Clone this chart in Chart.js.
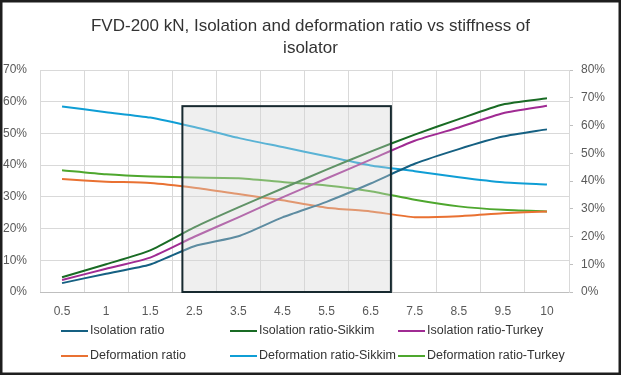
<!DOCTYPE html>
<html>
<head>
<meta charset="utf-8">
<script src="https://cdn.jsdelivr.net/npm/chart.js@4/dist/chart.umd.min.js"></script>
<style>
html,body{margin:0;padding:0;background:#fff;}
#wrap{width:621px;height:375px;position:relative;}
</style>
</head>
<body>
<div id="wrap"><canvas id="c" width="621" height="375"></canvas></div>
<script>
// ---- data ----
const categories = ['0.5','1','1.5','2.5','3.5','4.5','5.5','6.5','7.5','8.5','9.5','10'];

// isolation ratios (secondary / right axis, 0-80%)
const isolationRatio        = [0.032,0.066,0.099,0.165,0.201,0.269,0.325,0.391,0.462,0.515,0.560,0.586];
const isolationRatioSikkim  = [0.053,0.100,0.150,0.233,0.305,0.373,0.441,0.506,0.567,0.623,0.676,0.698];
const isolationRatioTurkey  = [0.043,0.084,0.124,0.199,0.269,0.341,0.409,0.477,0.545,0.593,0.644,0.671];

// deformation ratios (primary / left axis, 0-70%)
const deformationRatio       = [0.356,0.348,0.344,0.329,0.309,0.289,0.266,0.254,0.236,0.239,0.248,0.254];
const deformationRatioSikkim = [0.585,0.567,0.550,0.520,0.486,0.457,0.428,0.399,0.381,0.362,0.346,0.339];
const deformationRatioTurkey = [0.384,0.371,0.364,0.361,0.359,0.347,0.336,0.318,0.291,0.270,0.259,0.254];

const leftAxisRange  = [0, 0.7];
const rightAxisRange = [0, 0.8];
const tickStep = 0.1;

// highlighted stiffness band (category index units, left-axis value for the top)
const highlightBand = { fromIndex: 2.73, toIndex: 7.46, top: 0.586, bottom: 0 };

const titleLines = ['FVD-200 kN, Isolation and deformation ratio vs stiffness of', 'isolator'];

// ---- styling ----
const C = {
  iso: '#156082', isoS: '#196B24', isoT: '#A02B93',
  def: '#E97132', defS: '#0F9ED5', defT: '#4EA72E'
};
const REG = "'Liberation Sans',Arial,sans-serif";

function ds(label, data, color, axis) {
  return { label, data, borderColor: color, backgroundColor: color, borderWidth: 2,
           pointRadius: 0, pointHoverRadius: 0, tension: 0.2, yAxisID: axis, fill: false };
}

const pct = v => Math.round(v * 100) + '%';

const bandPlugin = {
  id: 'band',
  afterDatasetsDraw(chart) {
    const x = chart.scales.x, y = chart.scales.y, ctx = chart.ctx;
    const x0 = x.getPixelForValue(highlightBand.fromIndex);
    const x1 = x.getPixelForValue(highlightBand.toIndex);
    const y0 = y.getPixelForValue(highlightBand.top);
    const y1 = y.getPixelForValue(highlightBand.bottom);
    ctx.save();
    ctx.fillStyle = 'rgba(214,214,214,0.38)';
    ctx.fillRect(x0, y0, x1 - x0, y1 - y0);
    ctx.strokeStyle = '#17292f';
    ctx.lineWidth = 2;
    ctx.strokeRect(x0, y0, x1 - x0, y1 - y0);
    ctx.restore();
  }
};

const legendPlugin = {
  id: 'gridLegend',
  afterDraw(chart) {
    const ctx = chart.ctx;
    const colX = [61, 230, 398];
    const rowY = [331, 356];
    ctx.save();
    ctx.font = '12.5px ' + REG;
    ctx.textBaseline = 'middle';
    ctx.textAlign = 'left';
    chart.data.datasets.forEach((d, i) => {
      const cx = colX[i % 3], cy = rowY[Math.floor(i / 3)];
      ctx.strokeStyle = d.borderColor;
      ctx.lineWidth = 2;
      ctx.beginPath();
      ctx.moveTo(cx, cy); ctx.lineTo(cx + 27, cy);
      ctx.stroke();
      ctx.fillStyle = '#333333';
      ctx.fillText(d.label, cx + 29, cy);
    });
    // outer frame
    ctx.strokeStyle = '#1e1e1e';
    ctx.lineWidth = 2.5;
    ctx.strokeRect(1.25, 1.25, chart.width - 2.5, chart.height - 2.5);
    ctx.restore();
  }
};

new Chart(document.getElementById('c'), {
  type: 'line',
  data: {
    labels: categories,
    datasets: [
      ds('Isolation ratio', isolationRatio, C.iso, 'y1'),
      ds('Isolation ratio-Sikkim', isolationRatioSikkim, C.isoS, 'y1'),
      ds('Isolation ratio-Turkey', isolationRatioTurkey, C.isoT, 'y1'),
      ds('Deformation ratio', deformationRatio, C.def, 'y'),
      ds('Deformation ratio-Sikkim', deformationRatioSikkim, C.defS, 'y'),
      ds('Deformation ratio-Turkey', deformationRatioTurkey, C.defT, 'y')
    ]
  },
  options: {
    responsive: false,
    animation: false,
    devicePixelRatio: 1,
    layout: { padding: { left: 0, right: 0, top: 0, bottom: 0 } },
    plugins: {
      legend: { display: false },
      tooltip: { enabled: false },
      title: {
        display: true,
        text: titleLines,
        color: '#333333',
        font: { family: REG, size: 17, weight: 'normal', lineHeight: 1.25 },
        padding: { top: 16, bottom: 11.5 }
      }
    },
    scales: {
      x: {
        type: 'category',
        offset: true,
        grid: { offset: true, color: '#d9d9d9', drawTicks: false, lineWidth: 1 },
        border: { color: '#bfbfbf' },
        ticks: { color: '#595959', font: { family: REG, size: 12 }, padding: 12, maxRotation: 0, autoSkip: false },
        afterFit: s => { s.height = 83; }
      },
      y: {
        position: 'left',
        min: leftAxisRange[0], max: leftAxisRange[1],
        grid: { color: '#d9d9d9', drawTicks: false },
        border: { display: false },
        ticks: { stepSize: tickStep, callback: pct, color: '#595959', font: { family: REG, size: 12 }, padding: 13 },
        afterFit: s => { s.width = 40; }
      },
      y1: {
        position: 'right',
        min: rightAxisRange[0], max: rightAxisRange[1],
        grid: { drawOnChartArea: false, color: '#bfbfbf', tickLength: 4 },
        border: { color: '#d9d9d9' },
        ticks: { stepSize: tickStep, callback: pct, color: '#595959', font: { family: REG, size: 12 }, padding: 8 },
        afterFit: s => { s.width = 52; }
      }
    }
  },
  plugins: [bandPlugin, legendPlugin]
});
</script>
</body>
</html>
